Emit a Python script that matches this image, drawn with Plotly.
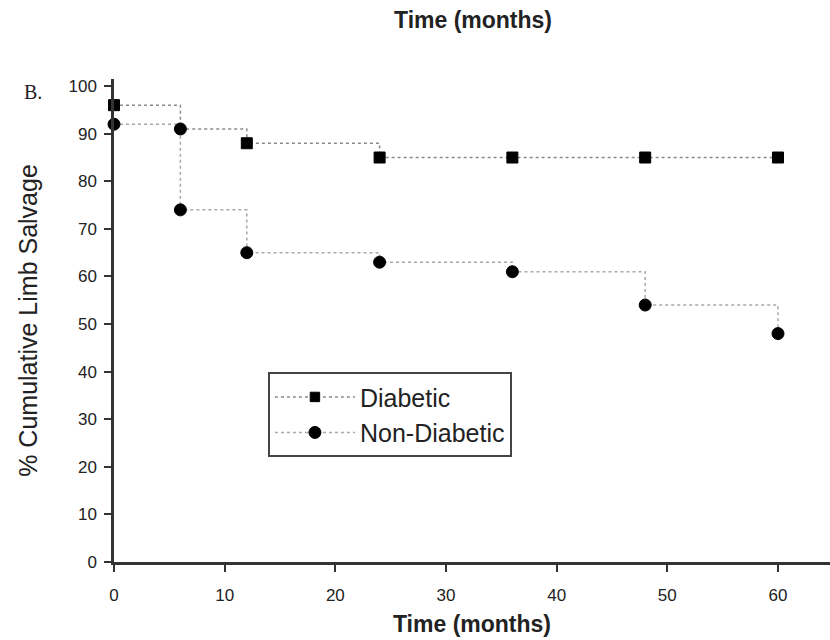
import plotly.graph_objects as go

# Kaplan-Meier style limb salvage data (panel B)
months_diabetic = [0, 6, 12, 24, 36, 48, 60]
salvage_diabetic = [96, 91, 88, 85, 85, 85, 85]
marker_size_diabetic = [11, 0, 11, 11, 11, 11, 11]

months_nondiabetic = [0, 6, 6, 12, 24, 36, 48, 60]
salvage_nondiabetic = [92, 91, 74, 65, 63, 61, 54, 48]

x_ticks = [0, 10, 20, 30, 40, 50, 60]
y_ticks = [0, 10, 20, 30, 40, 50, 60, 70, 80, 90, 100]

FONT = "Arial, Liberation Sans, Helvetica, sans-serif"

fig = go.Figure()
fig.add_trace(go.Scatter(
    x=months_diabetic, y=salvage_diabetic, name="Diabetic",
    mode="lines+markers", line=dict(shape="hv", color="#8a8a8a", width=1.5, dash="dot"),
    marker=dict(symbol="square", size=marker_size_diabetic, color="#000000", opacity=1,
                line=dict(color="#000000", width=1)),
    cliponaxis=False,
))
fig.add_trace(go.Scatter(
    x=months_nondiabetic, y=salvage_nondiabetic, name="Non-Diabetic",
    mode="lines+markers", line=dict(shape="hv", color="#a8a8a8", width=1.5, dash="dot"),
    marker=dict(symbol="circle", size=12, color="#000000", opacity=1,
                line=dict(color="#000000", width=1)),
    cliponaxis=False,
))

axis_common = dict(
    showgrid=False, zeroline=False, showline=True, linecolor="#333", linewidth=2.5,
    ticks="outside", tickcolor="#333", tickwidth=2, ticklen=7,
    tickfont=dict(family=FONT, size=17, color="#222"),
)

fig.update_layout(
    width=830, height=640,
    margin=dict(l=114, r=0, t=79, b=78),
    paper_bgcolor="white", plot_bgcolor="white",
    showlegend=True,
    legend=dict(
        x=0.215, y=0.393, xanchor="left", yanchor="top",
        bordercolor="#444", borderwidth=2, bgcolor="white",
        font=dict(family=FONT, size=25, color="#222"),
        itemwidth=80, tracegroupgap=0,
    ),
    xaxis=dict(range=[0, 64.7], tickvals=x_ticks, ticklabelstandoff=9,
               title=dict(text="<b>Time (months)</b>", font=dict(family=FONT, size=23, color="#222"), standoff=12),
               **axis_common),
    yaxis=dict(range=[0, 101.5], tickvals=y_ticks, ticklabelstandoff=4,
               title=dict(text="% Cumulative Limb Salvage", font=dict(family=FONT, size=25, color="#222"), standoff=24),
               **axis_common),
    annotations=[
        dict(text="<b>Time (months)</b>", xref="paper", yref="paper", x=(473 - 114) / 716, y=1 + (79 - 20) / 483,
             xanchor="center", yanchor="middle", showarrow=False,
             font=dict(family=FONT, size=23, color="#222")),
        dict(text="B.", xref="paper", yref="paper", x=(22 - 114) / 716, y=1 - (92 - 79) / 483,
             xanchor="left", yanchor="middle", showarrow=False,
             font=dict(family="Liberation Serif, Times New Roman, serif", size=20, color="#222")),
    ],
)

fig.write_html("out.html")
